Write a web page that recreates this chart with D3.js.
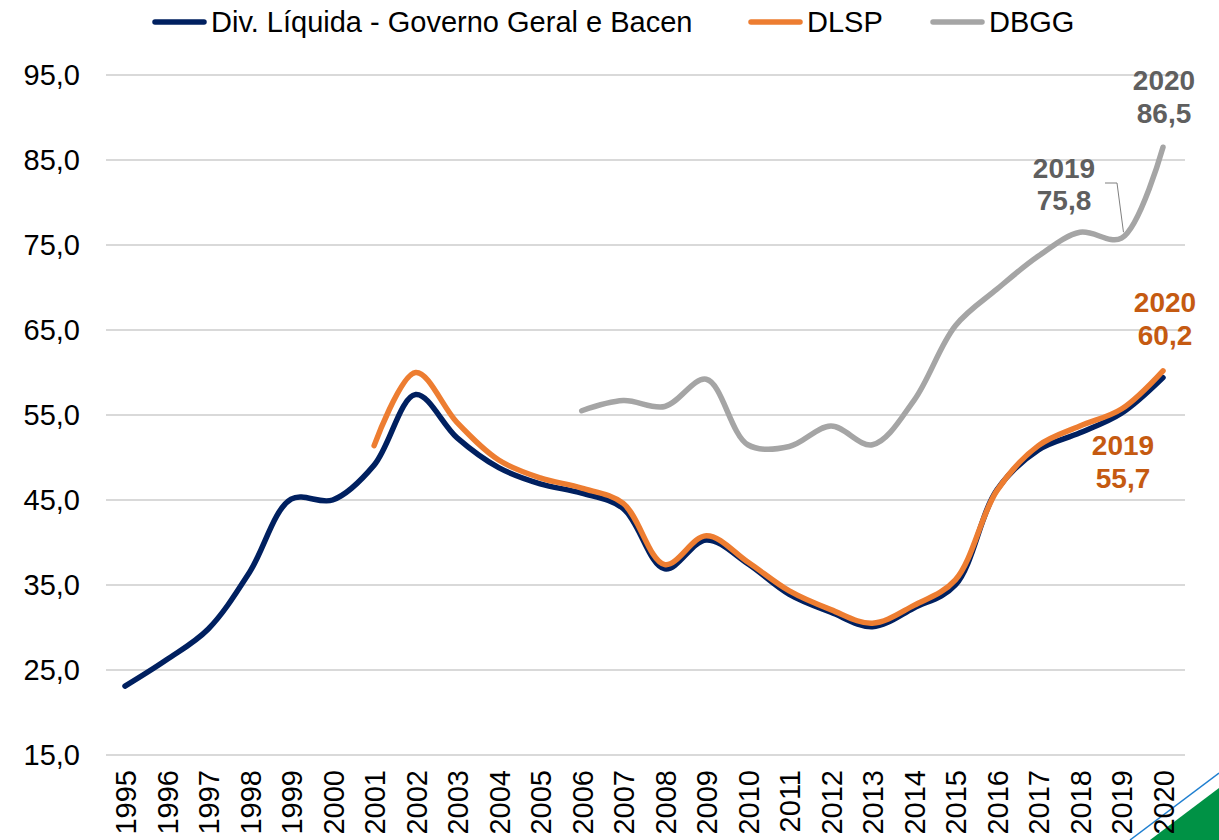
<!DOCTYPE html>
<html>
<head>
<meta charset="utf-8">
<script src="https://cdn.jsdelivr.net/npm/d3@7"></script>
<style>
  body { margin: 0; background: #fff; }
  svg text { font-family: "Liberation Sans", Arial, sans-serif; }
</style>
</head>
<body>
<svg id="chart" width="1219" height="840"></svg>
<script>
let years = d3.range(1995, 2021);
let yTicks = [15, 25, 35, 45, 55, 65, 75, 85, 95];

// Div. Líquida - Governo Geral e Bacen (1995-2020)
let dlggValues = [23.1, 26.2, 29.8, 36.5, 45.1, 45.0, 49.1, 57.4, 52.3, 48.8, 46.9, 45.8, 44.0, 36.9,
  40.3, 37.5, 33.9, 31.8, 30.1, 32.3, 35.0, 46.2, 50.9, 52.9, 55.2, 59.4];
// DLSP (2001-2020)
let dlspYears = d3.range(2001, 2021);
let dlspValues = [51.4, 60.0, 54.1, 49.7, 47.6, 46.4, 44.6, 37.4, 40.8, 37.7, 34.3, 32.1, 30.5,
  32.6, 35.6, 46.1, 51.4, 53.7, 55.7, 60.2];
// DBGG (2006-2020)
let dbggYears = d3.range(2006, 2021);
let dbggValues = [55.5, 56.7, 56.0, 59.2, 51.5, 51.3, 53.7, 51.5, 56.7, 65.5, 69.8, 73.7, 76.5, 75.8, 86.5];

let navy = "#002060", orange = "#ED7D31", gray = "#A5A5A5";
let gridColor = "#d9d9d9";
let axisSize = 29;

let svg = d3.select("#chart");

let x = d3.scaleLinear().domain([1995, 2020]).range([125, 1163]);
let y = d3.scaleLinear().domain([15, 95]).range([755, 75]);

// decoration bottom right (behind the labels)
svg.append("path")
  .attr("d", "M1150,840 L1219,788 L1219,840 Z")
  .attr("fill", "#009245");
svg.append("line")
  .attr("x1", 1130).attr("y1", 840)
  .attr("x2", 1219).attr("y2", 773)
  .attr("stroke", "#1f7fd0")
  .attr("stroke-width", 1.5);

// grid
svg.append("g")
  .selectAll("line")
  .data(yTicks)
  .enter()
  .append("line")
  .attr("x1", 106)
  .attr("x2", 1185)
  .attr("y1", d => y(d))
  .attr("y2", d => y(d))
  .attr("stroke", gridColor)
  .attr("stroke-width", 2);

// y labels
svg.append("g")
  .selectAll("text")
  .data(yTicks)
  .enter()
  .append("text")
  .attr("x", 80)
  .attr("y", d => y(d) + 10)
  .attr("text-anchor", "end")
  .attr("font-size", axisSize)
  .attr("fill", "#000")
  .text(d => d3.format(".1f")(d).replace(".", ","));

// x labels
svg.append("g")
  .selectAll("text")
  .data(years)
  .enter()
  .append("text")
  .attr("transform", d => `translate(${x(d) + 11}, 770) rotate(-90)`)
  .attr("text-anchor", "end")
  .attr("font-size", axisSize)
  .attr("fill", "#000")
  .text(d => d);

let line = d3.line()
  .x(d => x(d[0]))
  .y(d => y(d[1]))
  .curve(d3.curveCatmullRom.alpha(0.5));

let series = [
  {years: dbggYears, values: dbggValues, color: gray},
  {years: years, values: dlggValues, color: navy},
  {years: dlspYears, values: dlspValues, color: orange}
];

series.forEach(s => {
  svg.append("path")
    .datum(s.years.map((yr, i) => [yr, s.values[i]]))
    .attr("d", line)
    .attr("fill", "none")
    .attr("stroke", s.color)
    .attr("stroke-width", 5.5)
    .attr("stroke-linecap", "round")
    .attr("stroke-linejoin", "round");
});

// annotations
let grayText = "#5f5f5f", orangeText = "#C55A11";
function label(cx, cy, gap, lines, color) {
  lines.forEach((t, i) => {
    svg.append("text")
      .attr("x", cx)
      .attr("y", cy + i * gap)
      .attr("text-anchor", "middle")
      .attr("font-size", 28)
      .attr("font-weight", "bold")
      .attr("fill", color)
      .text(t);
  });
}
label(1164, 90, 33, ["2020", "86,5"], grayText);
label(1064, 178, 32, ["2019", "75,8"], grayText);
label(1165, 312, 33, ["2020", "60,2"], orangeText);
label(1123, 455, 33, ["2019", "55,7"], orangeText);

svg.append("polyline")
  .attr("points", `1105,183 1117,183 ${x(2019) + 2},${y(75.8) - 6}`)
  .attr("fill", "none")
  .attr("stroke", "#7f7f7f")
  .attr("stroke-width", 1);

// legend
let legendItems = [
  {name: "Div. Líquida - Governo Geral e Bacen", color: navy, x1: 152, x2: 207},
  {name: "DLSP", color: orange, x1: 748, x2: 803},
  {name: "DBGG", color: gray, x1: 930, x2: 985}
];
let lg = svg.append("g").attr("transform", "translate(0, 22)");
legendItems.forEach(d => {
  lg.append("line")
    .attr("x1", d.x1 + 3).attr("x2", d.x2 - 3)
    .attr("y1", 0).attr("y2", 0)
    .attr("stroke", d.color)
    .attr("stroke-width", 5.5)
    .attr("stroke-linecap", "round");
  lg.append("text")
    .attr("x", d.x2 + 4)
    .attr("y", 10)
    .attr("font-size", 29)
    .attr("fill", "#000")
    .text(d.name);
});
</script>
</body>
</html>
